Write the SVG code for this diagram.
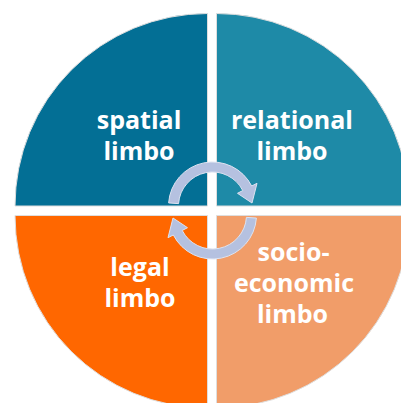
<svg xmlns="http://www.w3.org/2000/svg" width="401" height="403" viewBox="0 0 401 403">
<style>
.q{stroke:#dedede;stroke-width:1}
.t{font-family:"Open Sans","Liberation Sans",sans-serif;font-weight:bold;font-size:25px;fill:#ffffff;text-anchor:middle}
.arr{fill:#b5c1e0;stroke:#dde3f1;stroke-width:1}
</style>
<defs>
<path id="cyc" d="M168.61,202.93 A44,44 0 0 1 251.70,186.02 L257.0,183.3 L252.0,203.0 L237.5,193.3 L242.79,190.56 A34,34 0 0 0 178.58,203.63 Z"/>
</defs>
<rect width="401" height="403" fill="#ffffff"/>
<g id="spatial">
<path class="q" fill="#036f95" d="M207.5,206 L15,206 A192.5,192.5 0 0 1 207.5,13.5 Z"/>
<text class="t" x="139" y="129">spatial</text>
<text class="t" x="139" y="160">limbo</text>
</g>
<g id="relational">
<path class="q" fill="#1e8aa7" d="M216.5,206 L216.5,13.5 A192.5,192.5 0 0 1 409,206 Z"/>
<text class="t" x="292" y="129">relational</text>
<text class="t" x="292" y="160">limbo</text>
</g>
<g id="legal">
<path class="q" fill="#ff6700" d="M207.5,215.5 L207.5,408 A192.5,192.5 0 0 1 15,215.5 Z"/>
<text class="t" x="140" y="276">legal</text>
<text class="t" x="140" y="307">limbo</text>
</g>
<g id="socioeconomic">
<path class="q" fill="#f19d69" d="M216.5,215.5 L409,215.5 A192.5,192.5 0 0 1 216.5,408 Z"/>
<text class="t" x="293.5" y="261">socio-</text>
<text class="t" x="294" y="292">economic</text>
<text class="t" x="292.5" y="323">limbo</text>
</g>
<g id="connectors">
<use href="#cyc" class="arr"/>
<use href="#cyc" class="arr" transform="rotate(180 212.5 210.5)"/>
</g>
</svg>
